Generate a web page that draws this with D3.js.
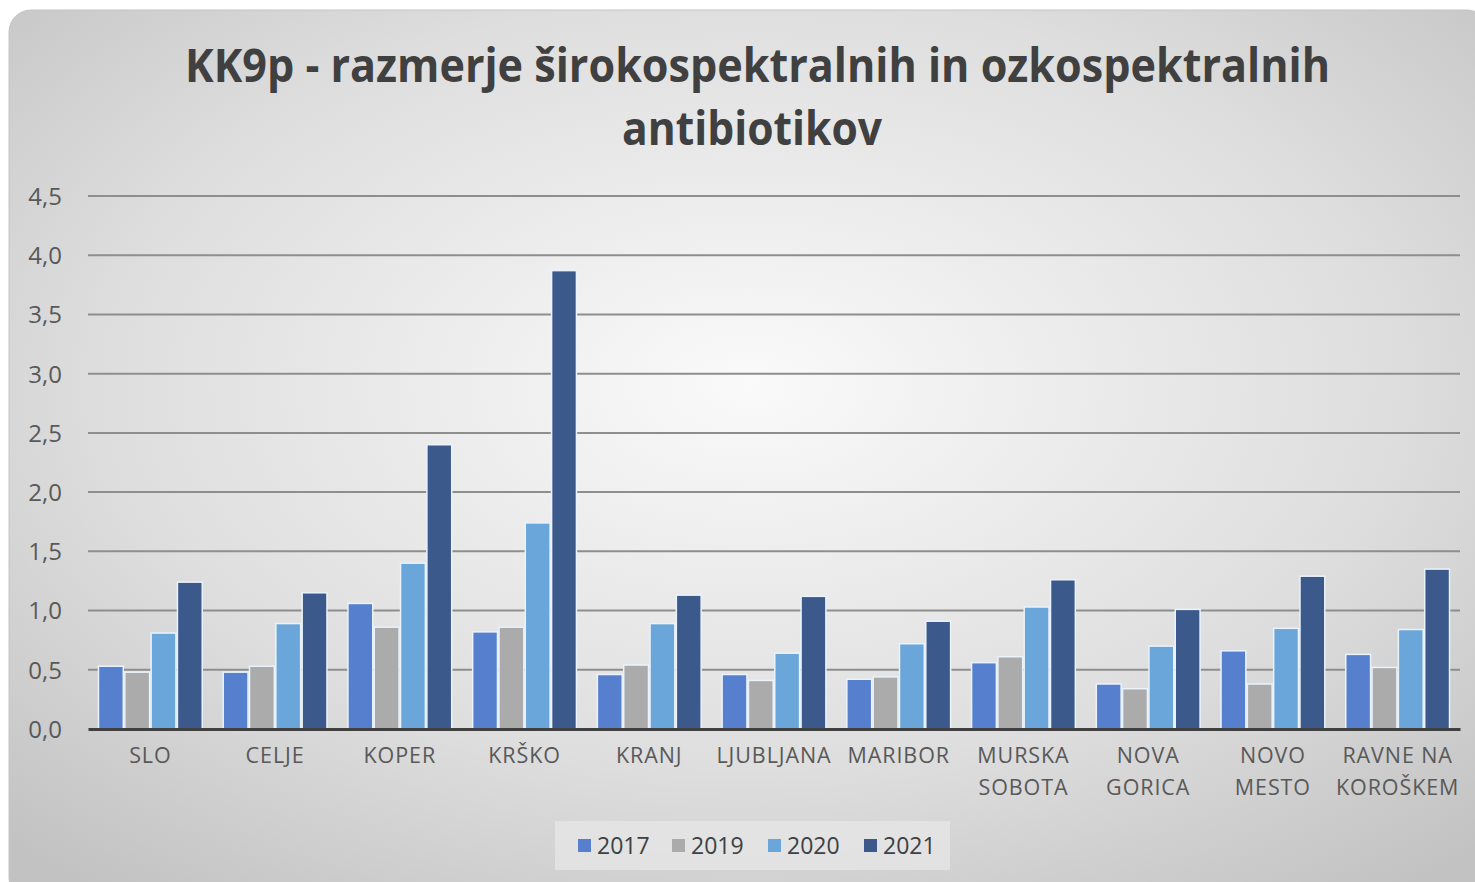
<!DOCTYPE html>
<html><head><meta charset="utf-8">
<script src="https://cdn.jsdelivr.net/npm/d3@7"></script>
<style>html,body{margin:0;padding:0;background:#fff;}svg{display:block;}</style>
</head><body>
<svg id="chart" width="1475" height="882"></svg>
<script>
const categories = [["SLO"],["CELJE"],["KOPER"],["KRŠKO"],["KRANJ"],["LJUBLJANA"],["MARIBOR"],["MURSKA","SOBOTA"],["NOVA","GORICA"],["NOVO","MESTO"],["RAVNE NA","KOROŠKEM"]];
const seriesNames = ["2017","2019","2020","2021"];
const v2017 = [0.53,0.48,1.06,0.82,0.46,0.46,0.42,0.56,0.38,0.66,0.63];
const v2019 = [0.48,0.53,0.86,0.86,0.54,0.41,0.44,0.61,0.34,0.38,0.52];
const v2020 = [0.81,0.89,1.40,1.74,0.89,0.64,0.72,1.03,0.70,0.85,0.84];
const v2021 = [1.24,1.15,2.40,3.87,1.13,1.12,0.91,1.26,1.01,1.29,1.35];
const yTicks = [0,0.5,1,1.5,2,2.5,3,3.5,4,4.5];
const colors = ["#5680cd","#ababab","#6aa6da","#3b5a8b"];
const seriesValues = [v2017,v2019,v2020,v2021];

const svg = d3.select("#chart");
const font = "'Open Sans', 'Noto Sans', sans-serif";

// background
const defs = svg.append("defs");
const rg = defs.append("radialGradient").attr("id","bg").attr("cx","50%").attr("cy","42%").attr("r","72%");
rg.append("stop").attr("offset","0%").attr("stop-color","#fafafa");
rg.append("stop").attr("offset","60%").attr("stop-color","#dedede");
rg.append("stop").attr("offset","100%").attr("stop-color","#c2c2c2");
svg.append("rect").attr("x",9).attr("y",10).attr("width",1480).attr("height",890).attr("rx",22)
  .attr("fill","url(#bg)").attr("stroke","#c4c4c4").attr("stroke-width",1);

// title
const title = svg.append("g").attr("font-family",font).attr("font-weight",700).attr("font-size",46).attr("fill","#404040");
title.append("text").attr("x",185).attr("y",82).attr("textLength",1145).attr("lengthAdjust","spacingAndGlyphs")
  .text("KK9p - razmerje širokospektralnih in ozkospektralnih");
title.append("text").attr("x",622).attr("y",145).attr("textLength",260).attr("lengthAdjust","spacingAndGlyphs")
  .text("antibiotikov");

const pLeft = 88, pRight = 1460, pTop = 196, pBottom = 729;
const x0 = d3.scaleBand().domain(d3.range(categories.length)).range([pLeft,pRight]).paddingInner(0.156).paddingOuter(0.078);
const x1 = d3.scaleBand().domain(d3.range(seriesNames.length)).range([0,x0.bandwidth()]).padding(0);
const y = d3.scaleLinear().domain([0,4.5]).range([pBottom,pTop]);

// gridlines
svg.append("g").selectAll("line").data(yTicks.filter(d=>d>0)).join("line")
  .attr("x1",pLeft).attr("x2",pRight).attr("y1",d=>y(d)).attr("y2",d=>y(d))
  .attr("stroke","#8e8e8e").attr("stroke-width",2);

// y axis labels
const yAxis = d3.axisLeft(y).tickValues(yTicks).tickSize(0).tickPadding(0)
  .tickFormat(d=>d3.format(".1f")(d).replace(".",","));
const ya = svg.append("g").attr("transform",`translate(62,0)`).call(yAxis);
ya.select(".domain").remove();
ya.selectAll("text").attr("font-family",font).attr("font-size",24).attr("fill","#595959").attr("dy","0.35em");

// bars
const groups = svg.append("g").selectAll("g").data(categories).join("g")
  .attr("transform",(d,i)=>`translate(${x0(i)},0)`);
groups.selectAll("rect").data((d,i)=>seriesValues.map((s,k)=>({k,v:s[i]}))).join("rect")
  .attr("x",d=>x1(d.k)+0.75).attr("width",x1.bandwidth()-1.5)
  .attr("y",d=>y(d.v)).attr("height",d=>y(0)-y(d.v))
  .attr("fill",d=>colors[d.k]).attr("stroke","#eaf3fc").attr("stroke-width",1.5);

// x axis
const xAxis = d3.axisBottom(x0).tickSize(0).tickFormat(()=>"");
const xa = svg.append("g").attr("transform",`translate(0,${pBottom})`).call(xAxis);
xa.select(".domain").attr("stroke","#404040").attr("stroke-width",3);
xa.selectAll(".tick").each(function(d){
  const t = d3.select(this).append("text").attr("text-anchor","middle").attr("font-family",font)
    .attr("font-size",21.5).attr("letter-spacing",0.9).attr("fill","#595959");
  categories[d].forEach((line,j)=>t.append("tspan").attr("x",0).attr("y",34+j*32).text(line));
});

// legend
const lg = svg.append("g");
lg.append("rect").attr("x",555).attr("y",821).attr("width",395).attr("height",49).attr("fill","#e8e8e8").attr("opacity",0.7);
const lx = [578,672,768,864];
seriesNames.forEach((n,k)=>{
  lg.append("rect").attr("x",lx[k]).attr("y",839).attr("width",13).attr("height",13).attr("fill",colors[k]);
  lg.append("text").attr("x",lx[k]+19).attr("y",854).attr("font-family",font).attr("font-size",23)
    .attr("fill","#404040").text(n);
});
</script>
</body></html>
